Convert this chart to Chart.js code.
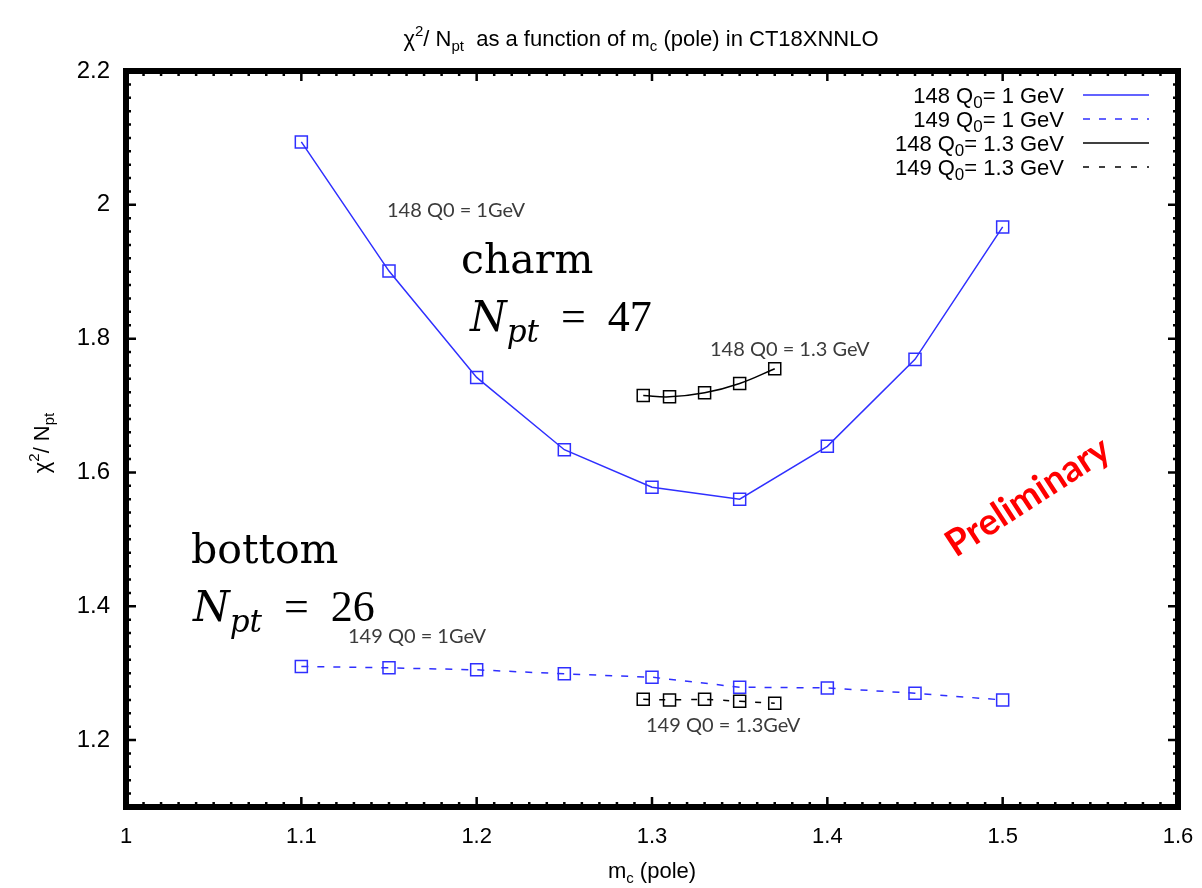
<!DOCTYPE html>
<html>
<head>
<meta charset="utf-8">
<script src="https://cdn.jsdelivr.net/npm/chart.js@4.4.0/dist/chart.umd.min.js"></script>
<style>
  html, body { margin: 0; padding: 0; background: #fff; }
</style>
</head>
<body>
<canvas id="chart" width="1202" height="888"></canvas>
<script>
// data
const mcMain = [1.10, 1.15, 1.20, 1.25, 1.30, 1.35, 1.40, 1.45, 1.50];
const chi148Q1 = [2.094, 1.901, 1.742, 1.634, 1.578, 1.560, 1.639, 1.769, 1.967];
const chi149Q1 = [1.310, 1.308, 1.305, 1.299, 1.294, 1.279, 1.278, 1.270, 1.260];
const mcQ13 = [1.295, 1.31, 1.33, 1.35, 1.37];
const chi148Q13 = [1.715, 1.713, 1.719, 1.733, 1.755];
const chi149Q13 = [1.261, 1.260, 1.261, 1.258, 1.255];

const xTicks = [1, 1.1, 1.2, 1.3, 1.4, 1.5, 1.6];
const yTicks = [1.2, 1.4, 1.6, 1.8, 2, 2.2];

const BLUE = '#2f2fff';
const SANS = "'Liberation Sans', Arial, sans-serif";
const NOTE = "Lato, 'Open Sans', sans-serif";
const SERIF = "'DejaVu Serif', 'Liberation Serif', serif";
const SERIF2 = "'Liberation Serif', serif";

function pts(xs, ys) {
    return xs.map((x, i) => ({ x: x, y: ys[i] }));
}

// draw a row of text pieces, each with its own font and vertical shift
function rich(ctx, parts, x, y, align) {
    let w = 0;
    parts.forEach(p => { ctx.font = p[1]; w += ctx.measureText(p[0]).width; });
    let cx = align === 'right' ? x - w : align === 'center' ? x - w / 2 : x;
    ctx.textAlign = 'left';
    ctx.textBaseline = 'alphabetic';
    parts.forEach(p => {
        ctx.font = p[1];
        ctx.fillText(p[0], cx, y + (p[2] || 0));
        cx += ctx.measureText(p[0]).width;
    });
}

const decor = {
    id: 'decor',
    afterDatasetsDraw(chart) {
        const ctx = chart.ctx;
        const a = chart.chartArea;
        const xs = chart.scales.x, ys = chart.scales.y;
        ctx.save();
        ctx.strokeStyle = '#000';

        // inner ticks, major and minor, on all four sides
        ctx.lineWidth = 2.5;
        for (let i = 0; i <= 60; i++) {
            const px = xs.getPixelForValue(1 + i * 0.01);
            const len = i % 10 === 0 ? 10 : 5;
            ctx.beginPath();
            ctx.moveTo(px, a.bottom); ctx.lineTo(px, a.bottom - len);
            ctx.moveTo(px, a.top); ctx.lineTo(px, a.top + len);
            ctx.stroke();
        }
        for (let i = 0; i <= 55; i++) {
            const py = ys.getPixelForValue(1.1 + i * 0.02);
            const len = (i - 5) % 10 === 0 ? 10 : 5;
            ctx.beginPath();
            ctx.moveTo(a.left, py); ctx.lineTo(a.left + len, py);
            ctx.moveTo(a.right, py); ctx.lineTo(a.right - len, py);
            ctx.stroke();
        }

        // thick frame
        ctx.lineWidth = 6;
        ctx.strokeRect(a.left, a.top, a.right - a.left, a.bottom - a.top);
        ctx.restore();
    },
    afterDraw(chart) {
        const ctx = chart.ctx;
        const big = '22px ' + SANS, small = '15px ' + SANS;
        ctx.save();
        ctx.fillStyle = '#000';

        // title
        rich(ctx, [['\u03c7', big], ['2', small, -10], ['/ N', big], ['pt', small, 5],
                   ['  as a function of m', big], ['c', small, 5], [' (pole) in CT18XNNLO', big]],
             641, 46, 'center');

        // axis titles
        rich(ctx, [['m', big], ['c', small, 5], [' (pole)', big]], 652, 878, 'center');
        ctx.save();
        ctx.translate(49, 443);
        ctx.rotate(-Math.PI / 2);
        rich(ctx, [['\u03c7', big], ['2', small, -10], ['/ N', big], ['pt', small, 5]], 0, 0, 'center');
        ctx.restore();

        // legend
        const rows = [
            ['148', '1', BLUE, []], ['149', '1', BLUE, [7, 9]],
            ['148', '1.3', '#000', []], ['149', '1.3', '#000', [6, 10]]
        ];
        rows.forEach((r, i) => {
            const y = 95 + i * 24;
            ctx.fillStyle = '#000';
            rich(ctx, [[r[0] + ' Q', '22px ' + SANS], ['0', '17px ' + SANS, 5],
                       ['= ' + r[1] + ' GeV', '22px ' + SANS]], 1064, y + 8, 'right');
            ctx.strokeStyle = r[2];
            ctx.lineWidth = 1.5;
            ctx.setLineDash(r[3]);
            ctx.beginPath();
            ctx.moveTo(1083, y); ctx.lineTo(1149, y);
            ctx.stroke();
            ctx.setLineDash([]);
        });

        // notes placed on the slide
        ctx.fillStyle = '#3b3b3b';
        ctx.font = '20px ' + NOTE;
        ctx.textAlign = 'left';
        ctx.fillText('148 Q0 = 1GeV', 387, 217);
        ctx.fillText('148 Q0 = 1.3 GeV', 710, 356);
        ctx.fillText('149 Q0 = 1GeV', 348, 643);
        ctx.fillText('149 Q0 = 1.3GeV', 646, 732);

        ctx.fillStyle = '#000';
        ctx.font = '41px ' + SERIF;
        ctx.fillText('charm', 461, 273);
        ctx.fillText('bottom', 191, 563);
        const it = 'italic 42px ' + SERIF, sub = 'italic 31px ' + SERIF, rm = '44px ' + SERIF2;
        rich(ctx, [['N', it], ['pt', sub, 11], ['  =  47', rm]], 470, 331, 'left');
        rich(ctx, [['N', it], ['pt', sub, 11], ['  =  26', rm]], 193, 621, 'left');

        ctx.save();
        ctx.translate(1028, 497);
        ctx.rotate(-33 * Math.PI / 180);
        ctx.fillStyle = '#ff0000';
        ctx.font = 'bold 37px ' + NOTE;
        ctx.textAlign = 'center';
        ctx.textBaseline = 'middle';
        ctx.fillText('Preliminary', 0, 0);
        ctx.restore();

        ctx.restore();
    }
};

const ctx = document.getElementById('chart').getContext('2d');
new Chart(ctx, {
    type: 'line',
    data: {
        datasets: [
            {
                label: '148 Q0 = 1 GeV',
                data: pts(mcMain, chi148Q1),
                borderColor: BLUE,
                borderWidth: 1.5,
                pointBorderColor: BLUE
            },
            {
                label: '149 Q0 = 1 GeV',
                data: pts(mcMain, chi149Q1),
                borderColor: BLUE,
                borderWidth: 1.5,
                borderDash: [7, 9],
                pointBorderColor: BLUE
            },
            {
                label: '148 Q0 = 1.3 GeV',
                data: pts(mcQ13, chi148Q13),
                borderColor: '#000',
                borderWidth: 1.5,
                tension: 0.4,
                pointBorderColor: '#000'
            },
            {
                label: '149 Q0 = 1.3 GeV',
                data: pts(mcQ13, chi149Q13),
                borderColor: '#000',
                borderWidth: 1.5,
                borderDash: [6, 10],
                pointBorderColor: '#000'
            }
        ]
    },
    options: {
        responsive: false,
        animation: false,
        layout: { padding: { left: 0, right: 24, top: 71, bottom: 0 } },
        elements: {
            point: {
                pointStyle: 'rect',
                radius: 8.5,
                borderWidth: 1.5,
                backgroundColor: 'rgba(0,0,0,0)'
            }
        },
        plugins: {
            legend: { display: false },
            title: { display: false },
            tooltip: { enabled: false }
        },
        scales: {
            x: {
                type: 'linear',
                min: 1, max: 1.6,
                grid: { display: false, drawTicks: false },
                border: { display: false },
                afterBuildTicks: s => { s.ticks = xTicks.map(v => ({ value: v })); },
                afterFit: s => { s.height = 81; s.paddingLeft = 0; s.paddingRight = 0; },
                ticks: {
                    padding: 17,
                    color: '#000',
                    font: { family: SANS, size: 22 },
                    maxRotation: 0,
                    callback: v => String(+v.toFixed(2))
                }
            },
            y: {
                min: 1.1, max: 2.2,
                grid: { display: false, drawTicks: false },
                border: { display: false },
                afterBuildTicks: s => { s.ticks = yTicks.map(v => ({ value: v })); },
                afterFit: s => { s.width = 126; },
                ticks: {
                    padding: 16,
                    color: '#000',
                    font: { family: SANS, size: 24 },
                    callback: v => String(+v.toFixed(2))
                }
            }
        }
    },
    plugins: [decor]
});
</script>
</body>
</html>
